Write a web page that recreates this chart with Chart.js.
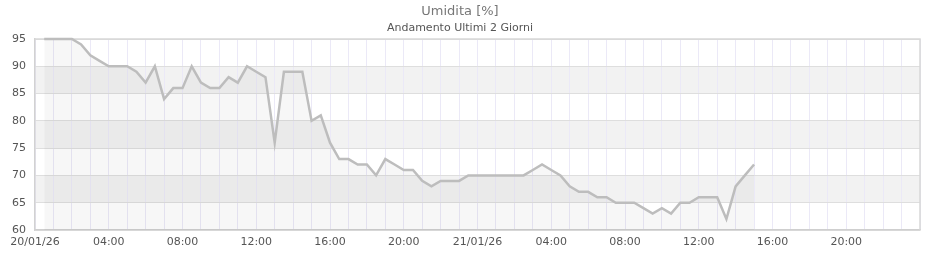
<!DOCTYPE html>
<html>
<head>
<meta charset="utf-8">
<script src="https://cdn.jsdelivr.net/npm/chart.js@4.4.1/dist/chart.umd.min.js"></script>
<style>
  html, body { margin: 0; padding: 0; background: #fff; }
  #wrap { width: 940px; height: 260px; }
</style>
</head>
<body>
<div id="wrap"><canvas id="chart" width="940" height="260"></canvas></div>
<script>
// ore dall'inizio del 20/01/26, una lettura ogni mezz'ora
const hours = [
  0.5, 1, 1.5, 2, 2.5, 3, 3.5, 4, 4.5, 5, 5.5, 6, 6.5, 7, 7.5, 8,
  8.5, 9, 9.5, 10, 10.5, 11, 11.5, 12, 12.5, 13, 13.5, 14, 14.5, 15, 15.5, 16,
  16.5, 17, 17.5, 18, 18.5, 19, 19.5, 20, 20.5, 21, 21.5, 22, 22.5, 23, 23.5, 24,
  24.5, 25, 25.5, 26, 26.5, 27, 27.5, 28, 28.5, 29, 29.5, 30, 30.5, 31, 31.5, 32,
  32.5, 33, 33.5, 34, 34.5, 35, 35.5, 36, 36.5, 37, 37.5, 38, 38.5, 39
];
const umidita = [
  95, 95, 95, 95, 94, 92, 91, 90, 90, 90, 89, 87, 90, 84, 86, 86,
  90, 87, 86, 86, 88, 87, 90, 89, 88, 76, 89, 89, 89, 80, 81, 76,
  73, 73, 72, 72, 70, 73, 72, 71, 71, 69, 68, 69, 69, 69, 70, 70,
  70, 70, 70, 70, 70, 71, 72, 71, 70, 68, 67, 67, 66, 66, 65, 65,
  65, 64, 63, 64, 63, 65, 65, 66, 66, 66, 62, 68, 70, 72
];
const dayLabels = { 0: '20/01/26', 24: '21/01/26' };
const yTicks = [60, 65, 70, 75, 80, 85, 90, 95];
const bands = [[85, 90], [75, 80], [65, 70]];

const points = hours.map((h, i) => ({ x: h, y: umidita[i] }));

const bandPlugin = {
  id: 'bands',
  beforeDraw(chart) {
    const { ctx, chartArea: a, scales: { y } } = chart;
    ctx.save();
    ctx.fillStyle = '#f2f2f2';
    bands.forEach(([lo, hi]) => {
      const top = y.getPixelForValue(hi);
      const bot = y.getPixelForValue(lo);
      ctx.fillRect(a.left, top, a.right - a.left, bot - top);
    });
    ctx.restore();
  }
};

const framePlugin = {
  id: 'frame',
  beforeDatasetsDraw(chart) {
    const { ctx, chartArea: a } = chart;
    ctx.save();
    ctx.strokeStyle = '#d8d8d8';
    ctx.lineWidth = 1.5;
    ctx.beginPath();
    ctx.moveTo(a.left, a.top);
    ctx.lineTo(a.right, a.top);
    ctx.lineTo(a.right, a.bottom);
    ctx.stroke();
    ctx.restore();
  }
};

const tickFont = { family: 'DejaVu Sans', size: 11 };

new Chart(document.getElementById('chart').getContext('2d'), {
  type: 'line',
  data: {
    datasets: [
      {
        data: points,
        borderColor: '#bdbdbd',
        borderWidth: 2.5,
        backgroundColor: 'rgba(0, 0, 0, 0.032)',
        fill: 'start',
        pointRadius: 0,
        tension: 0,
        clip: 3
      }
    ]
  },
  options: {
    responsive: false,
    animation: false,
    layout: { padding: { left: 0, right: 20, top: 0, bottom: 0 } },
    plugins: {
      legend: { display: false },
      tooltip: { enabled: false },
      title: {
        display: true,
        text: 'Umidita [%]',
        color: '#777',
        font: { family: 'DejaVu Sans', size: 13, weight: 'normal' },
        padding: { top: 4, bottom: 1.6 }
      },
      subtitle: {
        display: true,
        text: 'Andamento Ultimi 2 Giorni',
        color: '#555',
        font: { family: 'DejaVu Sans', size: 11 },
        padding: { top: 0, bottom: 4.6 }
      }
    },
    scales: {
      x: {
        type: 'linear',
        min: 0,
        max: 48,
        afterFit: (s) => { s.height = 30; },
        afterBuildTicks: (s) => {
          s.ticks = [];
          for (let h = 0; h <= 48; h++) s.ticks.push({ value: h });
        },
        border: { display: true, color: '#cfcfcf', width: 1.5 },
        grid: { color: '#ebe9f7', lineWidth: 1, drawTicks: false },
        ticks: {
          autoSkip: false,
          maxRotation: 0,
          padding: 6,
          color: '#555',
          font: tickFont,
          callback: (v) => {
            if (v === 48 || v % 4 !== 0) return '';
            if (dayLabels[v] !== undefined) return dayLabels[v];
            return String(v % 24).padStart(2, '0') + ':00';
          }
        }
      },
      y: {
        min: 60,
        max: 95,
        afterFit: (s) => { s.width = 35; },
        afterBuildTicks: (s) => { s.ticks = yTicks.map((v) => ({ value: v })); },
        border: { display: true, color: '#d2d2d2', width: 1.5 },
        grid: { color: '#dedede', lineWidth: 1, drawTicks: false },
        ticks: { padding: 9, color: '#555', font: tickFont }
      }
    }
  },
  plugins: [bandPlugin, framePlugin]
});
</script>
</body>
</html>
